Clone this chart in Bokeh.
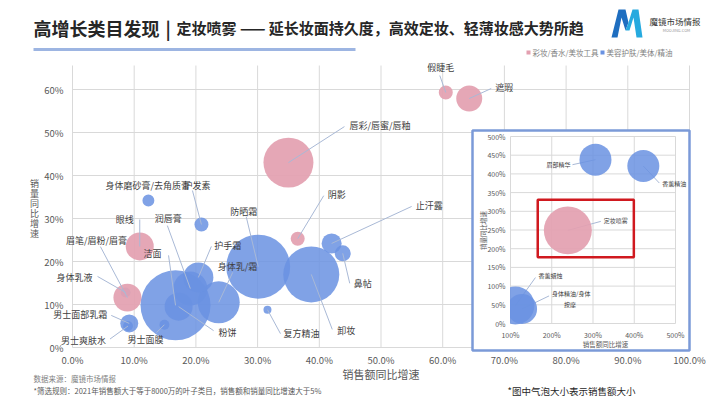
import math
from bokeh.plotting import figure
from bokeh.models import (Range1d, FixedTicker, NumeralTickFormatter, Label, LabelSet, LinearAxis,
                          ColumnDataSource, BoxAnnotation)
from bokeh.core.properties import value, field
from bokeh.embed import file_html
from bokeh.resources import INLINE

# ---------------- data ----------------
categories = ["彩妆/香水/美妆工具", "美容护肤/美体/精油"]

main_names = ["洁面", "防晒霜", "鼻帖", "卸妆", "唇彩/唇蜜/唇釉", "身体乳/霜", "润唇膏", "护手霜", "粉饼",
              "身体乳液", "男士爽肤水", "眉笔/眉粉/眉膏", "眼线", "遮瑕", "止汗露", "男士面部乳霜",
              "假睫毛", "阴影", "护发素", "身体磨砂膏/去角质膏", "男士面膜", "复方精油"]
main_sales_growth = [0.167, 0.301, 0.438, 0.387, 0.350, 0.237, 0.191, 0.204, 0.172,
                     0.086, 0.090, 0.089, 0.109, 0.643, 0.420, 0.092,
                     0.605, 0.365, 0.209, 0.123, 0.149, 0.316]
main_volume_growth = [0.098, 0.188, 0.219, 0.170, 0.430, 0.105, 0.137, 0.163, 0.095,
                      0.128, 0.050, 0.116, 0.235, 0.579, 0.242, 0.056,
                      0.593, 0.253, 0.286, 0.342, 0.053, 0.088]
main_sales = [100, 83.6, 5.2, 64, 51, 36, 23.6, 18.4, 16,
              2.0, 2.0, 16, 16, 13.8, 8.2, 6.6,
              4.0, 4.0, 4.0, 2.9, 2.0, 1.3]
main_category = [1, 1, 1, 1, 0, 1, 1, 1, 1,
                 1, 1, 0, 0, 0, 1, 1,
                 0, 0, 1, 1, 1, 1]

inset_names = ["眉部精华", "香薰精油", "定妆喷雾", "香薰蜡烛", "身体精油/身体按摩"]
inset_sales_growth = [3.06, 4.22, 2.39, 1.12, 1.28]
inset_volume_growth = [4.38, 4.21, 2.49, 0.48, 0.39]
inset_sales = [20.9, 20.9, 47.0, 29.5, 18.4]
inset_category = [1, 1, 0, 1, 1]
highlight_box = dict(x0=1.66, x1=3.99, y0=1.77, y1=3.31)

main_x_ticks = [0.0, 0.1, 0.2, 0.3, 0.4, 0.5, 0.6, 0.7, 0.8, 0.9, 1.0]
main_y_ticks = [0.0, 0.1, 0.2, 0.3, 0.4, 0.5, 0.6]
inset_x_ticks = [1.0, 2.0, 3.0, 4.0, 5.0]
inset_y_ticks = [0.0, 0.5, 1.0, 1.5, 2.0, 2.5, 3.0, 3.5, 4.0, 4.5, 5.0]

title_main = "高增长类目发现"
title_sub = "定妆喷雾 —— 延长妆面持久度，高效定妆、轻薄妆感大势所趋"
x_title = "销售额同比增速"
y_title = "销量同比增速"
source_note = "数据来源：魔镜市场情报"
rule_note = "*筛选规则：2021年销售额大于等于8000万的叶子类目，销售额和销量同比增速大于5%"
size_note = "*图中气泡大小表示销售额大小"
brand = "魔镜市场情报"
brand_url = "MOOJING.COM"

# ---------------- layout / style ----------------
FONT = "Noto Sans CJK SC"
COLORS = ["#E3A0B0", "#6A92E2"]
ALPHAS = [0.93, 0.85]
GRID = "#D9D9D9"
TICK_C = "#595959"
LEAD_C = "#A9B9D6"
FIG_W, FIG_H = 710, 399
X0_PX, Y0_PX = 72, 347          # page pixel of main origin
PX_X, PX_Y = 617.0, 430.0       # px per 1.0 on main axes
TOP_PX = 65                     # top of main plot area
BUBBLE_K = 7.0
IN_X0, IN_X1, IN_Y0, IN_Y1 = 510, 675, 323, 136  # inset plot area in page pixels

MAIN_LABELS = {
    "假睫毛": (-5, -25, "center", -6, -17),
    "遮瑕": (26, -11, "left", 22, -10),
    "唇彩/唇蜜/唇釉": (61, -37, "left", 56, -36),
    "阴影": (30, -44, "left", 26, -43),
    "止汗露": (84, -38, "left", 80, -37),
    "鼻帖": (11, 30, "left", 7, 30),
    "卸妆": (26, 56, "left", 21, 55),
    "防晒霜": (-28, -55, "left", -12, -50),
    "复方精油": (16, 24, "left", 13, 24),
    "身体乳/霜": (-1, -36, "left", 14, -30),
    "护手霜": (16, -32, "left", 13, -31),
    "粉饼": (40, 26, "left", 35, 24),
    "润唇膏": (-22, -70, "center", -23, -63),
    "洁面": (-32, -52, "left", -7, -50),
    "眼线": (-6, -27, "right", 0, -27),
    "眉笔/眉粉/眉膏": (-31, -57, "center", -27, -51),
    "身体乳液": (-33, -15, "right", -28, -16),
    "身体磨砂膏/去角质膏": (-43, -15, "left", None, None),
    "护发素": (-18, -39, "left", -9, -34),
    "男士面部乳霜": (-22, -9, "right", -18, -8),
    "男士爽肤水": (-22, 14, "right", -18, 13),
    "男士面膜": (-19, 15, "center", -8, 8),
}
INSET_LABELS = {
    "眉部精华": [(-25, 5, "right")],
    "香薰精油": [(19, 17, "left")],
    "定妆喷雾": [(36, -10, "left")],
    "香薰蜡烛": [(23, -30, "left")],
    "身体精油/身体按摩": [(30, -15, "left"), (48, -4, "center")],
}
INSET_LEADS = {"眉部精华": (-23, 5), "香薰精油": (16, 17), "定妆喷雾": (33, -9),
               "香薰蜡烛": (20, -28), "身体精油/身体按摩": (27, -13)}

# frame covers the whole canvas; axes sit at fixed locations
p = figure(width=FIG_W, height=FIG_H, title=None,
           x_range=Range1d(-X0_PX / PX_X, (FIG_W - X0_PX) / PX_X),
           y_range=Range1d(-(FIG_H - Y0_PX) / PX_Y, Y0_PX / PX_Y),
           output_backend="svg", toolbar_location=None,
           min_border=0, min_border_left=0, min_border_right=0,
           min_border_top=0, min_border_bottom=0,
           background_fill_color="white", border_fill_color="white")
p.outline_line_color = None
p.grid.visible = False

# page-pixel coordinates (titles, notes, logo, inset frame)
p.extra_x_ranges["cx"] = Range1d(0, FIG_W)
p.extra_y_ranges["cy"] = Range1d(FIG_H, 0)
# inset coordinates
ipx = (IN_X1 - IN_X0) / (inset_x_ticks[-1] - inset_x_ticks[0])
ipy = (IN_Y0 - IN_Y1) / (inset_y_ticks[-1] - inset_y_ticks[0])
p.extra_x_ranges["ix"] = Range1d(inset_x_ticks[0] - IN_X0 / ipx,
                                 inset_x_ticks[0] + (FIG_W - IN_X0) / ipx)
p.extra_y_ranges["iy"] = Range1d(inset_y_ticks[0] - (FIG_H - IN_Y0) / ipy,
                                 inset_y_ticks[0] + IN_Y0 / ipy)

def style_axis(ax, size, standoff):
    ax.axis_line_color = None
    ax.major_tick_line_color = None
    ax.minor_tick_line_color = None
    ax.major_tick_out = 0
    ax.major_tick_in = 0
    ax.major_label_text_font = FONT
    ax.major_label_text_font_size = size
    ax.major_label_text_color = TICK_C
    ax.major_label_standoff = standoff
    ax.axis_label_text_font = FONT
    ax.axis_label_text_font_style = "normal"
    ax.axis_label_text_color = TICK_C

# ---- main axes ----
xa, ya = p.xaxis[0], p.yaxis[0]
xa.ticker = FixedTicker(ticks=main_x_ticks)
xa.formatter = NumeralTickFormatter(format="0.0%")
ya.ticker = FixedTicker(ticks=main_y_ticks)
ya.formatter = NumeralTickFormatter(format="0%")
xa.fixed_location = 0
ya.fixed_location = 0
xa.bounds = (main_x_ticks[0], main_x_ticks[-1])
ya.bounds = (main_y_ticks[0], main_y_ticks[-1])
style_axis(xa, "9.5px", 5)
style_axis(ya, "9.5px", 9)
ya.axis_label = None
xa.axis_label = x_title
xa.axis_label_text_font_size = "11px"
xa.axis_label_standoff = -4

# main grid
y_top = (Y0_PX - TOP_PX) / PX_Y
p.segment(x0=main_x_ticks, x1=main_x_ticks, y0=[0] * len(main_x_ticks), y1=[y_top] * len(main_x_ticks),
          line_color=GRID, line_width=1, level="image")
p.segment(x0=[main_x_ticks[0]] * len(main_y_ticks), x1=[main_x_ticks[-1]] * len(main_y_ticks),
          y0=main_y_ticks, y1=main_y_ticks, line_color=GRID, line_width=1, level="image")

# ---- main bubbles ----
msrc = ColumnDataSource(dict(
    x=main_sales_growth, y=main_volume_growth,
    size=[BUBBLE_K * math.sqrt(s) for s in main_sales],
    color=[COLORS[c] for c in main_category],
    alpha=[ALPHAS[c] for c in main_category]))
p.scatter("x", "y", size="size", fill_color="color", fill_alpha="alpha",
          line_color=None, source=msrc)

seg = dict(x0=[], y0=[], x1=[], y1=[])
labs = dict(x=[], y=[], text=[], align=[])
for n, x, y in zip(main_names, main_sales_growth, main_volume_growth):
    tdx, tdy, al, ldx, ldy = MAIN_LABELS[n]
    labs["x"].append(x + tdx / PX_X)
    labs["y"].append(y - tdy / PX_Y)
    labs["text"].append(n)
    labs["align"].append(al)
    if ldx is not None:
        seg["x0"].append(x); seg["y0"].append(y)
        seg["x1"].append(x + ldx / PX_X); seg["y1"].append(y - ldy / PX_Y)
p.segment("x0", "y0", "x1", "y1", source=ColumnDataSource(seg),
          line_color=LEAD_C, line_width=1)
p.add_layout(LabelSet(x="x", y="y", text="text", source=ColumnDataSource(labs),
                      text_align=field("align"), text_baseline="middle",
                      text_font=value(FONT), text_font_size="9px", text_color="#404040"))

# stacked y title (one character per line)
yt = dict(x=[34] * len(y_title), y=[183 + 10 * i for i in range(len(y_title))], text=list(y_title))
p.add_layout(LabelSet(x="x", y="y", text="text", source=ColumnDataSource(yt),
                      x_range_name="cx", y_range_name="cy", text_align="center",
                      text_baseline="middle", text_font=value(FONT), text_font_size="9px",
                      text_color=TICK_C))

# ---- inset ----
p.add_layout(BoxAnnotation(left=472, right=689, top=130, bottom=350,
                           x_range_name="cx", y_range_name="cy",
                           fill_color="white", fill_alpha=1,
                           line_color="#7B9AD8", line_alpha=1, line_width=2.5, level="underlay"))
p.segment(x0=inset_x_ticks, x1=inset_x_ticks,
          y0=[inset_y_ticks[0]] * len(inset_x_ticks), y1=[inset_y_ticks[-1]] * len(inset_x_ticks),
          line_color=GRID, line_width=1, x_range_name="ix", y_range_name="iy")
p.segment(x0=[inset_x_ticks[0]] * len(inset_y_ticks), x1=[inset_x_ticks[-1]] * len(inset_y_ticks),
          y0=inset_y_ticks, y1=inset_y_ticks,
          line_color=GRID, line_width=1, x_range_name="ix", y_range_name="iy")

iseg = dict(x0=[], y0=[], x1=[], y1=[])
for n, x, y in zip(inset_names, inset_sales_growth, inset_volume_growth):
    ldx, ldy = INSET_LEADS[n]
    iseg["x0"].append(x); iseg["y0"].append(y)
    iseg["x1"].append(x + ldx / ipx); iseg["y1"].append(y - ldy / ipy)
p.segment("x0", "y0", "x1", "y1", source=ColumnDataSource(iseg), line_color=LEAD_C,
          line_width=1, x_range_name="ix", y_range_name="iy")

isrc = ColumnDataSource(dict(
    x=inset_sales_growth, y=inset_volume_growth,
    size=[BUBBLE_K * math.sqrt(s) for s in inset_sales],
    color=[COLORS[c] for c in inset_category],
    alpha=[ALPHAS[c] for c in inset_category]))
p.scatter("x", "y", size="size", fill_color="color", fill_alpha="alpha", line_color=None,
          source=isrc, x_range_name="ix", y_range_name="iy")

# clip bubbles at the inset plot-area left edge
p.add_layout(BoxAnnotation(left=474, right=IN_X0 - 0.5, top=262, bottom=340,
                           x_range_name="cx", y_range_name="cy",
                           fill_color="white", fill_alpha=1, line_alpha=0, level="glyph"))

# inset axes
ixa = LinearAxis(x_range_name="ix", y_range_name="iy", fixed_location=inset_y_ticks[0],
                 ticker=FixedTicker(ticks=inset_x_ticks), formatter=NumeralTickFormatter(format="0%"),
                 bounds=(inset_x_ticks[0], inset_x_ticks[-1]))
iya = LinearAxis(x_range_name="ix", y_range_name="iy", fixed_location=inset_x_ticks[0],
                 ticker=FixedTicker(ticks=inset_y_ticks), formatter=NumeralTickFormatter(format="0%"),
                 bounds=(inset_y_ticks[0], inset_y_ticks[-1]))
style_axis(ixa, "7px", 6)
style_axis(iya, "7px", 5)
p.add_layout(ixa, "below")
p.add_layout(iya, "left")

ilabs = dict(x=[], y=[], text=[], align=[])
for n, x, y in zip(inset_names, inset_sales_growth, inset_volume_growth):
    parts = INSET_LABELS[n]
    pieces = [n] if len(parts) == 1 else [n[:-2], n[-2:]]
    for (dx, dy, al), t in zip(parts, pieces):
        ilabs["x"].append(x + dx / ipx); ilabs["y"].append(y - dy / ipy)
        ilabs["text"].append(t); ilabs["align"].append(al)
p.add_layout(LabelSet(x="x", y="y", text="text", source=ColumnDataSource(ilabs),
                      x_range_name="ix", y_range_name="iy", text_align=field("align"),
                      text_baseline="middle", text_font=value(FONT), text_font_size="6px",
                      text_color="#404040"))
p.add_layout(BoxAnnotation(left=highlight_box["x0"], right=highlight_box["x1"],
                           bottom=highlight_box["y0"], top=highlight_box["y1"],
                           x_range_name="ix", y_range_name="iy", fill_alpha=0,
                           line_color="#D0191F", line_alpha=1, line_width=2.5))

# ---- text helper (page-pixel coordinates) ----
def txt(x, y, t, size, color="#262626", bold=False, align="left", angle=0.0):
    p.add_layout(Label(x=x, y=y, text=t, x_range_name="cx", y_range_name="cy",
                       text_align=align, text_baseline="middle", text_font=FONT,
                       text_font_size=size, text_color=color, angle=angle,
                       text_font_style="bold" if bold else "normal"))

# inset axis titles
txt(605, 343, x_title, "6.5px", color=TICK_C, align="center")
txt(482, 230, y_title, "6.5px", color=TICK_C, align="center", angle=math.pi / 2)

# ---- header ----
txt(33, 27, title_main, "18px", bold=True)
txt(165, 27, "|", "18px", bold=True)
txt(176, 27, title_sub, "15px", bold=True)
p.add_layout(BoxAnnotation(left=33, right=355, top=47.5, bottom=50.5,
                           x_range_name="cx", y_range_name="cy",
                           fill_color="#9DB5E2", fill_alpha=1, line_alpha=0))

# logo
p.patches(xs=[[611, 618, 625, 628, 625, 621, 617], [625, 628, 632, 638, 642, 636, 633, 629]],
          ys=[[37, 9, 9, 22, 30, 17, 37], [30, 22, 9, 9, 37, 37, 17, 30]],
          fill_color=["#1E6EC0", "#26AADF"], line_color=None,
          x_range_name="cx", y_range_name="cy", level="annotation")
txt(649, 20, brand, "8.5px", color="#333333")
txt(676, 29, brand_url, "4px", color="#999999", align="center")

# legend
for i, (lx, tx) in enumerate([(526, 532), (600, 606)]):
    p.add_layout(BoxAnnotation(left=lx, right=lx + 4, top=50, bottom=54,
                               x_range_name="cx", y_range_name="cy",
                               fill_color=COLORS[i], fill_alpha=1, line_alpha=0))
    txt(tx, 52, categories[i], "7.5px", color="#7F7F7F")

# footer
txt(33, 378, source_note, "7.5px", color="#7F7F7F")
txt(33, 390, rule_note, "7.5px", color="#595959")
txt(507, 390, size_note, "9.5px", color="#262626")

open("out.html", "w").write(file_html(p, INLINE))
